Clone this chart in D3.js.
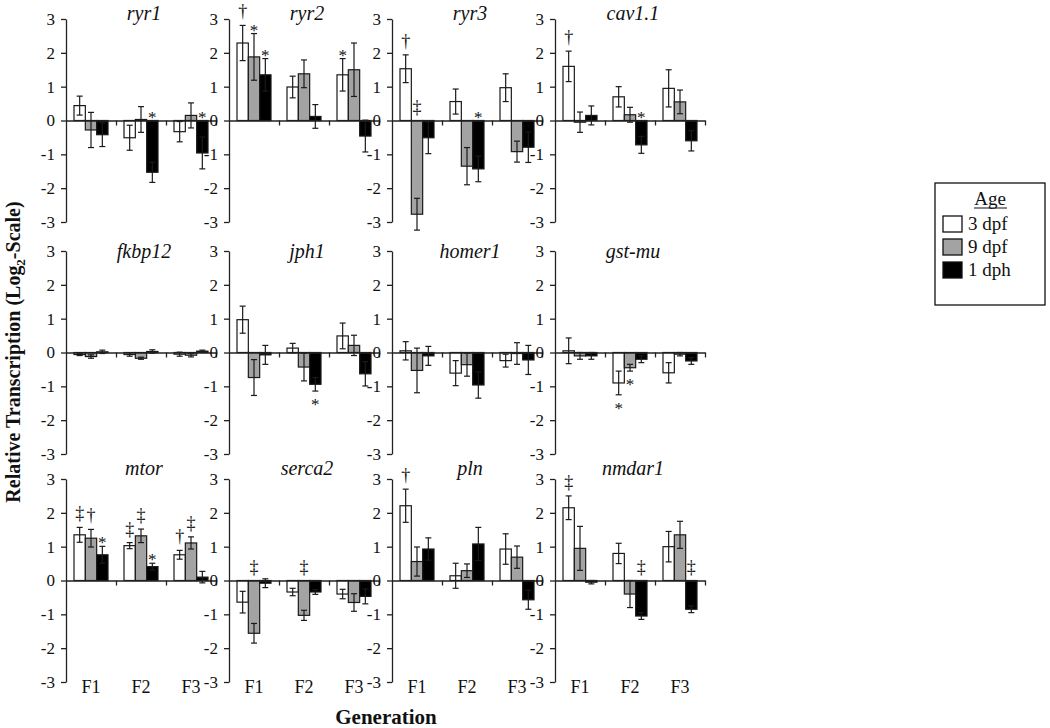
<!DOCTYPE html>
<html>
<head>
<meta charset="utf-8">
<script src="https://cdn.jsdelivr.net/npm/d3@7"></script>
<style>
  body { margin: 0; background: #fff; }
  text { font-family: "Liberation Serif", "Times New Roman", serif; fill: #111; }
</style>
</head>
<body>
<div id="chart"></div>
<script>
// gene panels, read left to right, top to bottom
var genes = ["ryr1", "ryr2", "ryr3", "cav1.1",
             "fkbp12", "jph1", "homer1", "gst-mu",
             "mtor", "serca2", "pln", "nmdar1"];
var generations = ["F1", "F2", "F3"];
var ages = ["3 dpf", "9 dpf", "1 dph"];
var yTicks = [-3, -2, -1, 0, 1, 2, 3];

// mean log2 values: per gene, per generation [3 dpf, 9 dpf, 1 dph]
var means = [
  [[0.44, -0.28, -0.42], [-0.51, 0.03, -1.53], [-0.33, 0.15, -0.96]],
  [[2.29, 1.88, 1.35], [0.99, 1.38, 0.12], [1.35, 1.50, -0.46]],
  [[1.53, -2.77, -0.51], [0.56, -1.35, -1.43], [0.97, -0.92, -0.79]],
  [[1.60, -0.05, 0.15], [0.70, 0.17, -0.72], [0.95, 0.55, -0.60]],
  [[-0.06, -0.12, 0.02], [-0.06, -0.17, 0.03], [-0.05, -0.08, 0.04]],
  [[0.97, -0.74, -0.07], [0.13, -0.43, -0.94], [0.49, 0.21, -0.63]],
  [[0.05, -0.53, -0.10], [-0.61, -0.36, -0.96], [-0.24, -0.03, -0.22]],
  [[0.05, -0.10, -0.10], [-0.90, -0.45, -0.20], [-0.60, -0.05, -0.25]],
  [[1.35, 1.25, 0.76], [1.03, 1.32, 0.41], [0.76, 1.11, 0.10]],
  [[-0.64, -1.56, -0.08], [-0.34, -1.03, -0.34], [-0.40, -0.65, -0.47]],
  [[2.21, 0.56, 0.93], [0.14, 0.29, 1.08], [0.93, 0.69, -0.57]],
  [[2.15, 0.95, -0.05], [0.80, -0.40, -1.05], [1.00, 1.35, -0.85]]
];

// standard errors, same layout
var errors = [
  [[0.28, 0.52, 0.35], [0.37, 0.38, 0.30], [0.30, 0.37, 0.47]],
  [[0.52, 0.69, 0.48], [0.32, 0.41, 0.35], [0.48, 0.79, 0.47]],
  [[0.41, 0.47, 0.47], [0.37, 0.55, 0.38], [0.41, 0.31, 0.45]],
  [[0.45, 0.30, 0.28], [0.30, 0.22, 0.25], [0.55, 0.35, 0.30]],
  [[0.03, 0.05, 0.05], [0.05, 0.03, 0.05], [0.06, 0.05, 0.03]],
  [[0.40, 0.53, 0.28], [0.14, 0.41, 0.20], [0.38, 0.30, 0.36]],
  [[0.27, 0.66, 0.28], [0.37, 0.34, 0.39], [0.19, 0.32, 0.43]],
  [[0.38, 0.10, 0.10], [0.35, 0.10, 0.10], [0.30, 0.05, 0.10]],
  [[0.22, 0.26, 0.25], [0.09, 0.20, 0.10], [0.13, 0.18, 0.17]],
  [[0.32, 0.29, 0.13], [0.11, 0.15, 0.07], [0.14, 0.26, 0.22]],
  [[0.49, 0.43, 0.33], [0.37, 0.20, 0.49], [0.45, 0.33, 0.28]],
  [[0.35, 0.65, 0.05], [0.30, 0.40, 0.10], [0.45, 0.40, 0.10]]
];

// significance marks: [gene index, generation, age, symbol, "above"/"below"]
var marks = [
  [0, 1, 2, "*", "above"], [0, 2, 2, "*", "above"],
  [1, 0, 0, "\u2020", "above"], [1, 0, 1, "*", "above"], [1, 0, 2, "*", "above"], [1, 2, 0, "*", "above"],
  [2, 0, 0, "\u2020", "above"], [2, 0, 1, "\u2021", "above"], [2, 1, 2, "*", "above"],
  [3, 0, 0, "\u2020", "above"], [3, 1, 2, "*", "above"],
  [5, 1, 2, "*", "below"],
  [7, 1, 0, "*", "below"], [7, 1, 1, "*", "below"],
  [8, 0, 0, "\u2021", "above"], [8, 0, 1, "\u2020", "above"], [8, 0, 2, "*", "above"],
  [8, 1, 0, "\u2021", "above"], [8, 1, 1, "\u2021", "above"], [8, 1, 2, "*", "above"],
  [8, 2, 0, "\u2020", "above"], [8, 2, 1, "\u2021", "above"],
  [9, 0, 1, "\u2021", "above"], [9, 1, 1, "\u2021", "above"],
  [10, 0, 0, "\u2020", "above"],
  [11, 0, 0, "\u2021", "above"], [11, 1, 2, "\u2021", "above"], [11, 2, 2, "\u2021", "above"]
];

var fills = ["#ffffff", "#a3a3a3", "#000000"];

var width = 1050, height = 728;
var colX = [66, 229, 392, 555];
var rowTop = [19, 251, 479];
var titleY = [20, 258, 475];
var panelW = 150, panelH = 203;

var svg = d3.select("#chart").append("svg")
  .attr("width", width)
  .attr("height", height);

genes.forEach(function(gene, gi) {
  var col = gi % 4, row = Math.floor(gi / 4);
  var g = svg.append("g")
    .attr("transform", "translate(" + colX[col] + "," + rowTop[row] + ")");

  var y = d3.scaleLinear().domain([-3, 3]).range([panelH, 0]);
  var x0 = d3.scaleBand().domain(generations).range([0, panelW]);
  var x1 = d3.scaleBand().domain(ages)
    .range([x0.bandwidth() * 0.16, x0.bandwidth() * 0.84]);
  var xl = d3.scaleLinear().domain([0, 3]).range([0, panelW]);

  // y axis
  var yAxis = d3.axisLeft(y).tickValues(yTicks).tickSize(5).tickSizeOuter(0);
  if (col > 0) yAxis.tickFormat("");
  var ya = g.append("g").call(yAxis);
  ya.selectAll("path, line").attr("stroke", "#222").attr("stroke-width", 1.3);
  ya.selectAll("text").attr("font-size", 17).attr("dx", -3)
    .text(function(d) { return d < 0 ? "-" + Math.abs(d) : d; });

  // bars
  generations.forEach(function(gen, k) {
    var grp = g.append("g").attr("transform", "translate(" + x0(gen) + ",0)");
    ages.forEach(function(age, a) {
      var v = means[gi][k][a], e = errors[gi][k][a];
      var bx = x1(age), bw = x1.bandwidth(), cx = bx + bw / 2;
      grp.append("rect")
        .attr("x", bx)
        .attr("y", y(Math.max(0, v)))
        .attr("width", bw)
        .attr("height", Math.abs(y(v) - y(0)))
        .attr("fill", fills[a])
        .attr("stroke", "#1a1a1a")
        .attr("stroke-width", 1.2);
      var eb = grp.append("g").attr("stroke", "#1a1a1a").attr("stroke-width", 1.2);
      eb.append("line").attr("x1", cx).attr("x2", cx).attr("y1", y(v + e)).attr("y2", y(v - e));
      eb.append("line").attr("x1", cx - 3).attr("x2", cx + 3).attr("y1", y(v + e)).attr("y2", y(v + e));
      eb.append("line").attr("x1", cx - 3).attr("x2", cx + 3).attr("y1", y(v - e)).attr("y2", y(v - e));
    });
  });

  // zero line with generation ticks
  var xa = g.append("g").attr("transform", "translate(0," + y(0) + ")")
    .call(d3.axisBottom(xl).tickValues([1, 2, 3]).tickSize(5).tickSizeOuter(0).tickFormat(""));
  xa.selectAll("path, line").attr("stroke", "#222").attr("stroke-width", 1.3);

  // significance symbols
  marks.filter(function(m) { return m[0] === gi; }).forEach(function(m) {
    var k = m[1], a = m[2];
    var v = means[gi][k][a], e = errors[gi][k][a];
    var cx = x0(generations[k]) + x1(ages[a]) + x1.bandwidth() / 2;
    var star = m[3] === "*";
    var ref = v > 0 ? y(v + e) : y(0);
    var ty;
    if (m[4] === "below") ty = y(v - e) + 19;
    else ty = star ? ref + 2 : ref - 8;
    g.append("text")
      .attr("x", cx)
      .attr("y", ty)
      .attr("text-anchor", "middle")
      .attr("font-size", star ? 17 : 18)
      .text(m[3]);
  });

  // title
  g.append("text")
    .attr("x", panelW / 2 + 3)
    .attr("y", titleY[row] - rowTop[row])
    .attr("text-anchor", "middle")
    .attr("font-size", 20)
    .attr("font-style", "italic")
    .text(gene);

  // generation labels on the bottom row
  if (row === 2) {
    g.selectAll(".gen").data(generations).enter().append("text")
      .attr("x", function(d) { return x0(d) + x0.bandwidth() / 2; })
      .attr("y", panelH + 11)
      .attr("text-anchor", "middle")
      .attr("font-size", 18)
      .text(function(d) { return d; });
  }
});

// axis titles
svg.append("text")
  .attr("transform", "translate(20,352) rotate(-90)")
  .attr("text-anchor", "middle")
  .attr("font-size", 20)
  .attr("font-weight", "bold")
  .call(function(t) {
    t.append("tspan").text("Relative Transcription (Log");
    t.append("tspan").attr("font-size", 13).attr("dy", 5).text("2");
    t.append("tspan").attr("dy", -5).text("-Scale)");
  });

svg.append("text")
  .attr("x", 386)
  .attr("y", 724)
  .attr("text-anchor", "middle")
  .attr("font-size", 21)
  .attr("font-weight", "bold")
  .text("Generation");

// legend
var lg = svg.append("g").attr("transform", "translate(935,183)");
lg.append("rect").attr("width", 110).attr("height", 122)
  .attr("fill", "#fff").attr("stroke", "#111").attr("stroke-width", 1.3);
lg.append("text").attr("x", 55).attr("y", 22).attr("text-anchor", "middle")
  .attr("font-size", 19).text("Age");
lg.append("line").attr("x1", 39).attr("x2", 72).attr("y1", 25).attr("y2", 25)
  .attr("stroke", "#111").attr("stroke-width", 1.2);
ages.forEach(function(age, a) {
  lg.append("rect").attr("x", 8).attr("y", 33 + a * 23).attr("width", 19).attr("height", 16)
    .attr("fill", fills[a]).attr("stroke", "#111").attr("stroke-width", 1.3);
  lg.append("text").attr("x", 33).attr("y", 47 + a * 23).attr("font-size", 19).text(age);
});
</script>
</body>
</html>
